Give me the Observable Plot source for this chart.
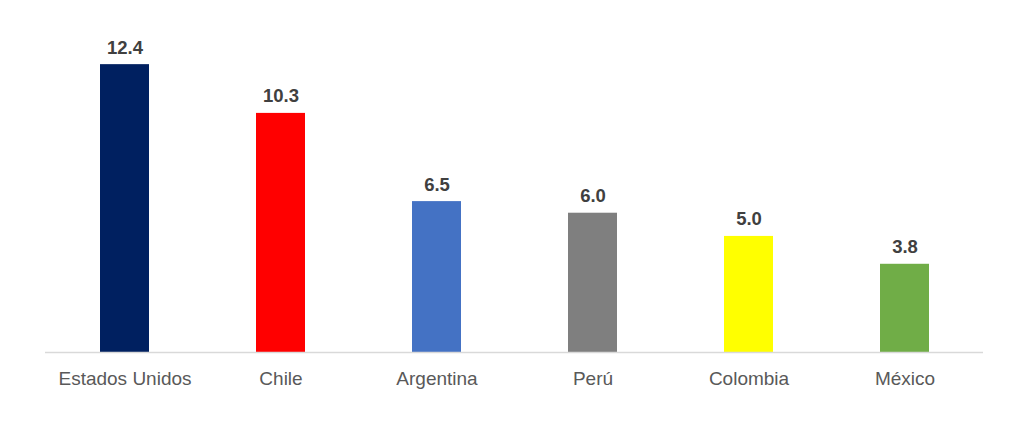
<!DOCTYPE html>
<html>
<head>
<meta charset="utf-8">
<script src="https://cdn.jsdelivr.net/npm/d3@7"></script>
<script src="https://cdn.jsdelivr.net/npm/@observablehq/plot@0.6"></script>
<style>
  html, body { margin: 0; padding: 0; background: #fff; }
  #chart svg { display: block; }
</style>
</head>
<body>
<div id="chart"></div>
<script>
const countries = ["Estados Unidos", "Chile", "Argentina", "Perú", "Colombia", "México"];
const values = [12.4, 10.3, 6.5, 6.0, 5.0, 3.8];
const colors = ["#002060", "#FF0000", "#4472C4", "#7F7F7F", "#FFFF00", "#70AD47"];

const data = countries.map((c, i) => ({country: c, value: values[i]}));

const chart = Plot.plot({
  width: 1024,
  height: 425,
  marginLeft: 45,
  marginRight: 41,
  marginTop: 27,
  marginBottom: 73,
  style: {fontFamily: "'Liberation Sans', Arial, sans-serif", background: "#fff"},
  x: {domain: countries, paddingInner: 0.686, paddingOuter: 0.343, label: null},
  y: {domain: [0, 14], axis: null},
  color: {domain: countries, range: colors},
  marks: [
    Plot.barY(data, {x: "country", y: "value", fill: "country"}),
    Plot.ruleY([0], {stroke: "#d9d9d9", strokeWidth: 1.3}),
    Plot.axisX({tickSize: 0, tickPadding: 19, fontSize: 19, fill: "#595959", label: null}),
    Plot.text(data, {x: "country", y: "value", text: d => d.value.toFixed(1), lineAnchor: "bottom", dy: -11, fontSize: 18.5, fontWeight: "bold", fill: "#404040"})
  ]
});
document.getElementById("chart").appendChild(chart);
</script>
</body>
</html>
